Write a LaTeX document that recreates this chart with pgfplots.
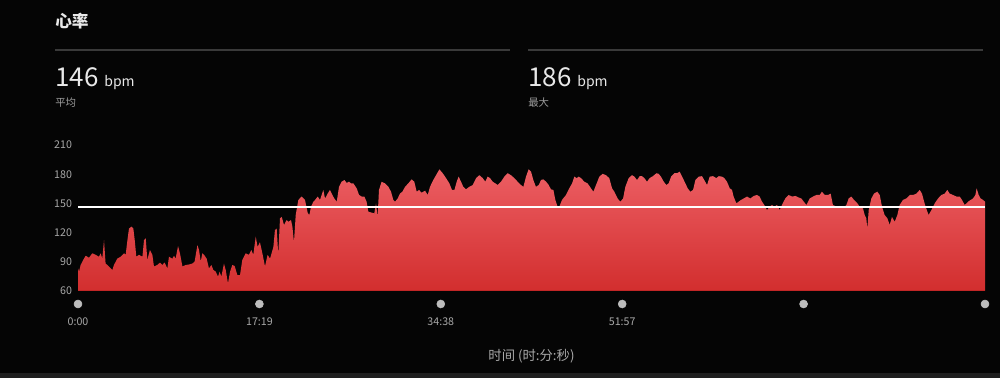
\documentclass[border=0pt]{standalone}
\usepackage{pgfplots}
\pgfplotsset{compat=1.18}
\usepackage{fontspec}
\setmainfont{Noto Sans CJK SC}

\definecolor{bg}{HTML}{050505}
\definecolor{titlecol}{HTML}{E8E8E8}
\definecolor{sepcol}{HTML}{3A3A3A}
\definecolor{subcol}{HTML}{9C9C9C}
\definecolor{tickcol}{HTML}{A8A8A8}
\definecolor{dotcol}{HTML}{BDBDBD}
\definecolor{fillTop}{HTML}{EC5E63}
\definecolor{fillBot}{HTML}{D22E2E}
\definecolor{baseRed}{HTML}{C22626}

\begin{document}
\begin{tikzpicture}
% canvas and header, laid out on a 1000 x 378 grid
\begin{scope}[x=0.75pt,y=0.75pt]
\fill[bg] (0,0) rectangle (1000,378);
\fill[black!88!white] (0,0) rectangle (1000,5);

\node[anchor=west, inner sep=0, text=titlecol, font=\fontsize{12.5}{14}\selectfont\bfseries] at (55,357) {心率};
\draw[sepcol, line width=1.1pt] (55,328) -- (510,328);
\draw[sepcol, line width=1.1pt] (528,328) -- (983,328);

\node[anchor=base west, inner sep=0, text=titlecol] at (55,291)
  {\fontsize{19.5}{21}\selectfont 146 \fontsize{10.5}{12}\selectfont bpm};
\node[anchor=west, inner sep=0, text=subcol, font=\fontsize{7.8}{9}\selectfont] at (55,275) {平均};

\node[anchor=base west, inner sep=0, text=titlecol] at (528,291)
  {\fontsize{19.5}{21}\selectfont 186 \fontsize{10.5}{12}\selectfont bpm};
\node[anchor=west, inner sep=0, text=subcol, font=\fontsize{7.8}{9}\selectfont] at (528,275) {最大};
\end{scope}

\begin{axis}[
  at={(58.5pt,65.475pt)}, anchor=south west,
  scale only axis, width=680.25pt, height=109.2pt,
  xmin=0, xmax=5195, ymin=60, ymax=210,
  clip=false,
  axis line style={draw=none}, tick style={draw=none},
  ytick={60,90,120,150,180,210},
  /pgf/number format/assume math mode=true,
  yticklabel style={text=tickcol, font=\fontsize{8}{9}\selectfont, xshift=-1pt},
  xtick={0,1039,2078,3117},
  xticklabels={0:00,17:19,34:38,51:57},
  xticklabel style={text=tickcol, font=\fontsize{8}{9}\selectfont, yshift=-17pt},
  xlabel={时间 (时:分:秒)},
  xlabel style={at={(axis description cs:0.5,0)}, anchor=center, yshift=-49pt,
                text=tickcol, font=\fontsize{10}{12}\selectfont},
]
% heart-rate area, seconds vs bpm
\addplot[draw=none, top color=fillTop, bottom color=fillBot] table {
t bpm
0 60
0 83
6 79.6
15 86.5
34 93
44 96
63 94
82 98.5
101 97
120 95
130 98.5
139 93
149 112
158 88
168 86.5
187 83
197 81.4
206 86.5
225 93
244 95
264 98.5
273 97
283 112
292 124
306 126
317 124
325 112
334 95
349 97
369 95
378 112
388 114
397 91.6
412 102
426 97
435 85
454 86.5
470 89
483 86.5
496 89
512 83
521 95
540 93
550 96
559 93
573 106
584 98.5
598 85
617 86.5
636 87
655 88
668 90
684 107
693 102
703 90
712 98.5
722 97
737 93
750 83
764 86.5
775 81.4
789 79.6
802 74.5
811 79.6
821 74.5
836 88
846 81.4
859 67.6
871 79.6
884 86.5
897 85.5
913 76
928 76
941 91.6
960 98.5
979 97
993 102
1004 97
1018 115.6
1029 105
1042 110
1056 98.5
1071 85
1086 97
1100 93
1119 105
1128 122.5
1138 124
1147 97
1157 134.6
1167 136
1180 127.7
1195 132.8
1205 131
1220 132.8
1228 126
1237 110
1247 138
1262 153.5
1281 157
1300 153.5
1316 140
1325 138
1335 146.6
1348 151.7
1358 153.5
1373 157
1386 153.5
1405 163.8
1415 155
1430 160
1443 163.8
1457 158.6
1468 155
1482 151.7
1495 167
1510 172.3
1526 174
1539 171
1552 172.3
1564 170.6
1577 170.6
1596 165.5
1610 158.6
1625 157
1640 157
1653 151.7
1663 141.4
1682 140.4
1697 139.7
1707 150
1716 136
1724 163.8
1739 172.3
1758 170.6
1778 167
1793 162
1806 153.5
1816 151.7
1831 155
1844 160
1858 162
1873 167
1892 170.6
1911 174.7
1926 172.3
1940 162
1953 163.8
1968 161
1988 163
2003 158.6
2016 167
2035 174
2054 180
2070 185
2089 181
2108 176
2127 170.6
2142 163.8
2156 163.8
2169 172.3
2180 177.5
2194 172.3
2207 167
2222 164.4
2241 167
2261 168.9
2280 176
2299 179
2318 176
2333 172.3
2346 177.5
2360 176
2375 172.3
2390 170.6
2404 168.9
2423 172.3
2442 177.5
2461 181
2480 179
2499 176
2518 172.3
2537 168.9
2551 167
2566 177.5
2581 185
2595 182.6
2608 174
2623 167
2639 168.9
2652 174
2665 174.7
2681 172.3
2696 168.9
2709 164.4
2723 163.8
2734 153.5
2747 146.6
2757 146.6
2772 153.5
2795 158.6
2814 165.5
2830 170.6
2843 177.5
2856 176
2868 177.5
2881 176
2900 172.3
2919 170.6
2938 165.5
2952 162
2967 168.9
2986 177.5
3005 180.4
3024 179
3043 176
3059 165.5
3072 162
3091 155
3106 151.7
3122 155
3135 167
3154 176
3173 179
3187 177.5
3202 174
3217 178
3230 178
3244 176
3259 172.3
3274 176
3293 178
3313 181
3326 180.4
3339 177.5
3355 172.3
3370 168.9
3383 170.6
3397 177.5
3416 181
3431 181
3446 182.6
3460 177.5
3479 170.6
3492 165.5
3507 162
3523 163.8
3536 174
3555 177.5
3574 178
3587 174
3603 168.9
3618 177.5
3637 178
3656 176
3670 178
3689 177.5
3702 176
3717 172.3
3733 165.5
3746 163.8
3755 157
3771 150
3784 151.7
3797 153.5
3813 155
3832 157
3851 155
3870 157.6
3889 158.6
3904 157
3918 151.7
3931 148.3
3946 143.1
3962 146.6
3975 148.3
3988 146.6
4004 148.3
4019 143.1
4032 148.3
4051 155
4070 158.6
4090 157
4109 157.6
4128 156
4143 155
4172 148.3
4191 155
4210 157
4229 158.6
4248 158.6
4261 162
4277 158.6
4296 158.6
4311 160
4324 148.3
4344 146.6
4363 147.3
4382 144.8
4401 148.3
4414 155
4429 157
4445 153.5
4464 150
4477 146.6
4496 144.8
4506 138
4515 134.6
4521 124
4529 143.1
4544 155
4559 160
4578 162
4592 158.6
4605 146.6
4620 138
4636 134.6
4649 127.7
4662 136
4678 131
4693 138
4706 148.3
4725 153.5
4744 155
4764 158.6
4783 158.6
4802 160
4821 163.8
4834 160
4849 150
4865 141.4
4872 138
4888 143.1
4907 150
4926 155
4945 158.6
4964 160
4979 163.8
4993 160
5012 158.6
5031 157
5050 157
5063 153.5
5079 148.3
5098 151.7
5113 153.5
5126 155
5140 158.6
5147 165.5
5159 158.6
5170 155
5184 153.5
5195 151.7
5195 60
} -- cycle;

% bottom edge of the area
\addplot[baseRed, line width=1.2pt] coordinates {(0,60) (5195,60)};

% average heart rate
\addplot[white, line width=1.5pt] coordinates {(0,146) (5195,146)};

% time markers
\addplot[only marks, mark=*, mark size=3pt, color=dotcol, mark options={draw=none}]
  coordinates {(0,46.3) (1039,46.3) (2078,46.3) (3117,46.3) (4156,46.3) (5195,46.3)};
\end{axis}
\end{tikzpicture}
\end{document}
